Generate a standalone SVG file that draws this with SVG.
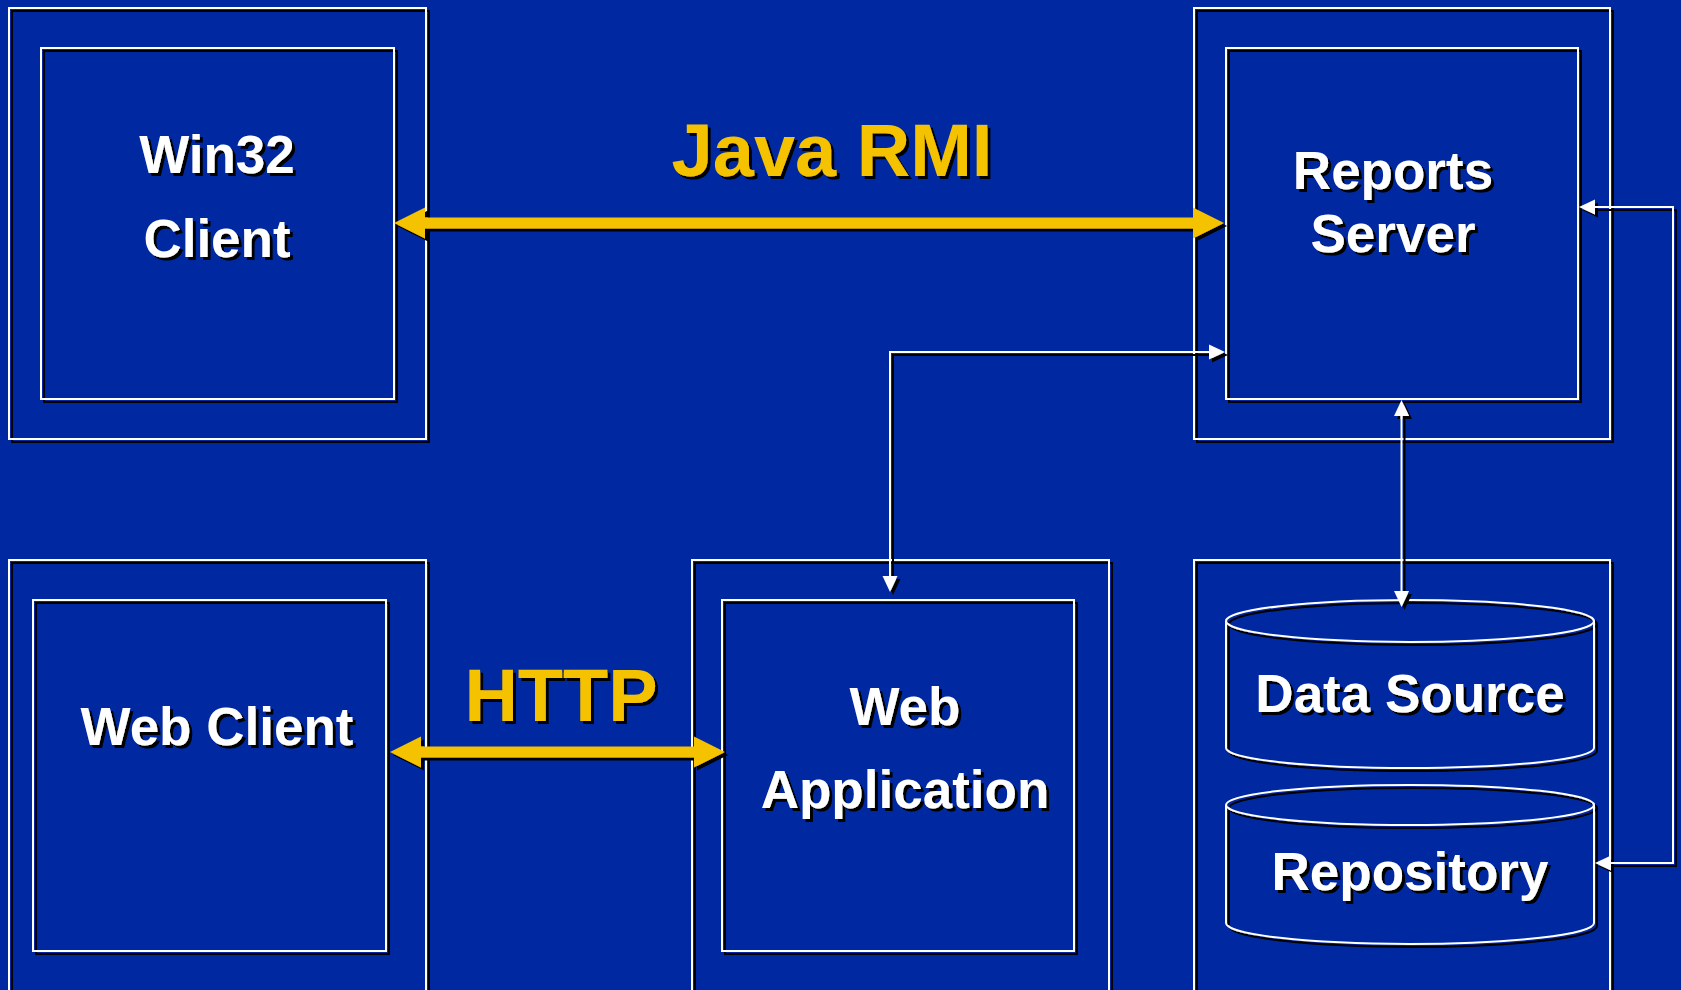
<svg xmlns="http://www.w3.org/2000/svg" width="1681" height="990" viewBox="0 0 1681 990">
  <defs>
    <filter id="sh" filterUnits="userSpaceOnUse" x="0" y="0" width="1681" height="990">
      <feDropShadow dx="3" dy="3" stdDeviation="0" flood-color="#000000" flood-opacity="1"/>
    </filter>
    <marker id="wh" markerUnits="userSpaceOnUse" markerWidth="16" markerHeight="15" refX="0" refY="7.5" orient="auto-start-reverse" overflow="visible">
      <path d="M0,0 L16,7.5 L0,15 Z" fill="#FFFFFF"/>
    </marker>
    <marker id="yh" markerUnits="userSpaceOnUse" markerWidth="31" markerHeight="31" refX="0" refY="15.5" orient="auto-start-reverse" overflow="visible">
      <path d="M0,0 L31,15.5 L0,31 Z" fill="#F5C200"/>
    </marker>
  </defs>
  <style>
    .box { fill: none; stroke: #FFFFFF; stroke-width: 2; filter: url(#sh); }
    .lbl { font-family: "Liberation Sans", Arial, sans-serif; font-weight: bold; font-size: 53px; fill: #FFFFFF; text-anchor: middle; filter: url(#sh); }
    .proto { font-family: "Liberation Sans", Arial, sans-serif; font-weight: bold; font-size: 74px; fill: #F5C200; text-anchor: middle; filter: url(#sh); }
    .wline { fill: none; stroke: #FFFFFF; stroke-width: 2; marker-start: url(#wh); marker-end: url(#wh); filter: url(#sh); }
    .yline { fill: none; stroke: #F5C200; stroke-width: 11; marker-start: url(#yh); marker-end: url(#yh); filter: url(#sh); }
  </style>
  <rect x="0" y="0" width="1681" height="990" fill="#0028A0"/>

  <g id="win32-client">
    <rect class="box" x="9" y="8" width="417" height="431"/>
    <rect class="box" x="41" y="48" width="353" height="351"/>
    <text class="lbl" x="217" y="173">Win32</text>
    <text class="lbl" x="217" y="257">Client</text>
  </g>

  <g id="reports-server">
    <rect class="box" x="1194" y="8" width="416" height="431"/>
    <rect class="box" x="1226" y="48" width="352" height="351"/>
    <text class="lbl" x="1393" y="189">Reports</text>
    <text class="lbl" x="1393" y="252">Server</text>
  </g>

  <g id="web-client">
    <rect class="box" x="9" y="560" width="417" height="500"/>
    <rect class="box" x="33" y="600" width="353" height="351"/>
    <text class="lbl" x="217" y="745">Web Client</text>
  </g>

  <g id="web-application">
    <rect class="box" x="692" y="560" width="417" height="500"/>
    <rect class="box" x="722" y="600" width="352" height="351"/>
    <text class="lbl" x="905" y="725">Web</text>
    <text class="lbl" x="905" y="808">Application</text>
  </g>

  <g id="data-tier">
    <rect class="box" x="1194" y="560" width="416" height="500"/>
  </g>

  <g id="data-source">
    <path class="box" d="M1226,621 A184,21 0 0 1 1594,621 A184,21 0 0 1 1226,621 Z M1226,621 V748 A184,20 0 0 0 1594,748 V621"/>
    <text class="lbl" x="1410" y="712">Data Source</text>
  </g>

  <g id="repository">
    <path class="box" d="M1226,805 A184,20 0 0 1 1594,805 A184,20 0 0 1 1226,805 Z M1226,805 V923 A184,21 0 0 0 1594,923 V805"/>
    <text class="lbl" x="1410" y="890">Repository</text>
  </g>

  <g id="connectors">
    <path class="yline" d="M425,223 H1193"/>
    <text class="proto" x="832" y="176">Java RMI</text>
    <path class="yline" d="M421,752 H694"/>
    <text class="proto" x="561" y="721">HTTP</text>
    <path class="wline" d="M1209,352 H890 V576"/>
    <path class="wline" d="M1401.5,416 V591"/>
    <path class="wline" d="M1595,207 H1673 V863 H1611"/>
  </g>
</svg>
